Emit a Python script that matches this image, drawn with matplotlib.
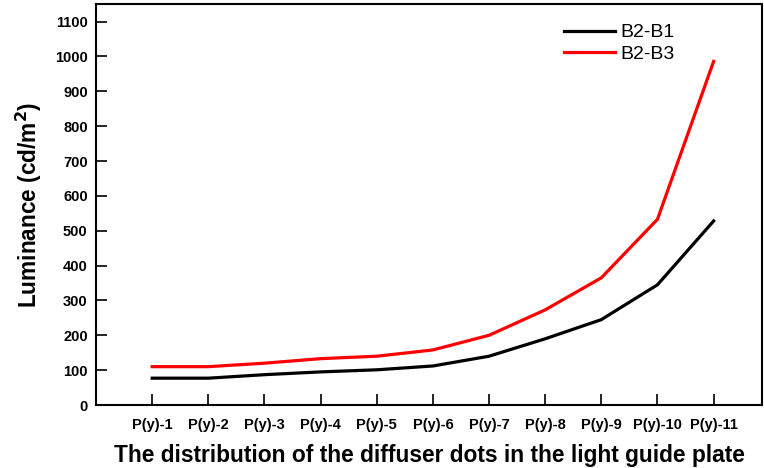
import matplotlib
matplotlib.use("Agg")
import matplotlib.pyplot as plt

categories = ["P(y)-1", "P(y)-2", "P(y)-3", "P(y)-4", "P(y)-5", "P(y)-6",
              "P(y)-7", "P(y)-8", "P(y)-9", "P(y)-10", "P(y)-11"]
b2_b1 = [77, 77, 87, 95, 101, 112, 140, 190, 245, 345, 528]
b2_b3 = [110, 110, 120, 133, 140, 158, 200, 273, 365, 533, 986]
y_ticks = [0, 100, 200, 300, 400, 500, 600, 700, 800, 900, 1000, 1100]

plt.rcParams['font.family'] = ['Liberation Sans', 'DejaVu Sans']

fig = plt.figure(figsize=(7.64, 4.68), dpi=100)
ax = fig.add_axes([0.1257, 0.1346, 0.8723, 0.8564])

x = list(range(1, len(categories) + 1))
ax.plot(x, b2_b1, color="black", lw=2.3, label="B2-B1")
ax.plot(x, b2_b3, color="#ff0000", lw=2.3, label="B2-B3")

ax.set_xlim(0, 11.87)
ax.set_ylim(0, 1150)
ax.set_xticks(x)
ax.set_xticklabels(categories)
ax.set_yticks(y_ticks)
ax.tick_params(axis="both", direction="in", length=8, width=1.2,
               labelsize=10.5, top=False, right=False)
ax.tick_params(axis="x", pad=9)
ax.tick_params(axis="y", pad=6)
for lab in ax.get_xticklabels() + ax.get_yticklabels():
    lab.set_fontweight("bold")
for sp in ax.spines.values():
    sp.set_linewidth(1.5)

ax.set_xlabel("The distribution of the diffuser dots in the light guide plate",
              fontsize=16.4, fontweight="bold", labelpad=9)
ax.set_ylabel("Luminance (cd/m$^\\mathbf{2}$)", fontsize=16.3, fontweight="bold", labelpad=8)

leg = ax.legend(loc="upper left", bbox_to_anchor=(0.676, 0.995), frameon=False,
                fontsize=14, handlelength=2.6, handletextpad=0.3, labelspacing=0.2)

fig.savefig("out.png", dpi=100)
